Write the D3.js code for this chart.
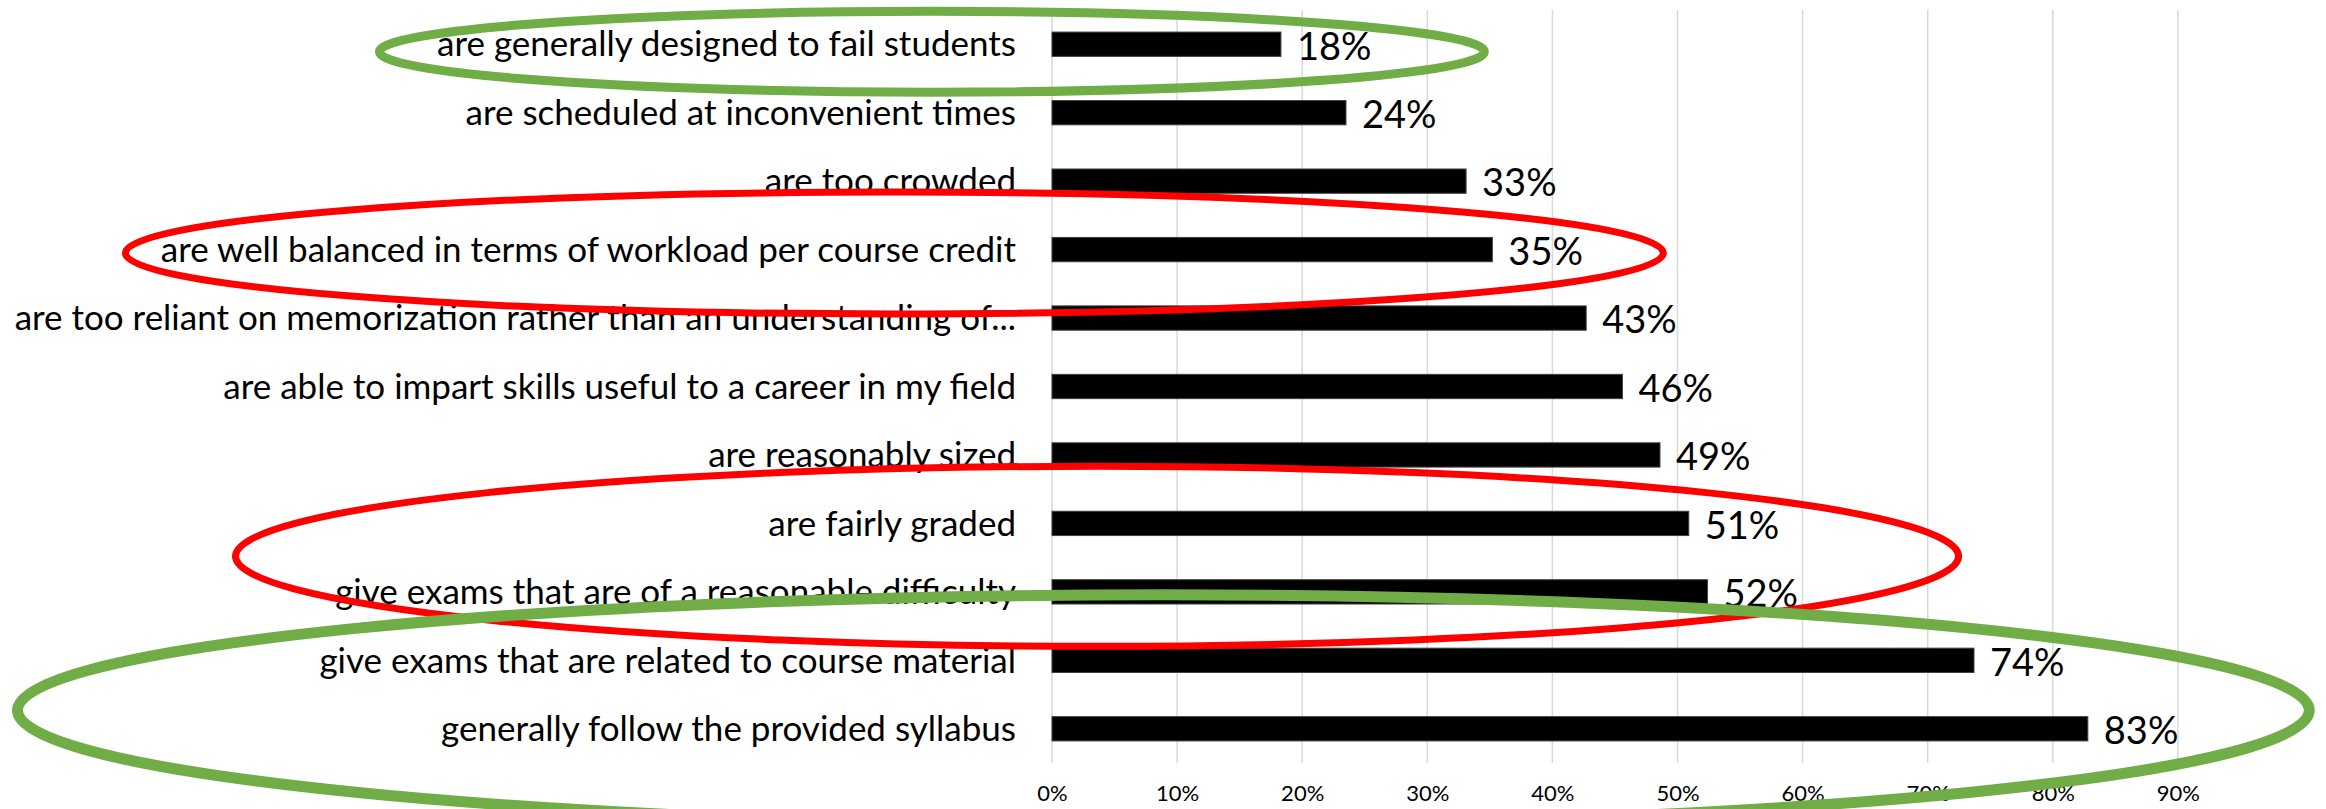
<!DOCTYPE html>
<html>
<head>
<meta charset="utf-8">
<script src="https://cdn.jsdelivr.net/npm/d3@7"></script>
<style>
  body { margin: 0; background: #fff; }
  svg { display: block; }
  text { font-family: Lato, "Noto Sans", sans-serif; fill: #000; }
</style>
</head>
<body>
<div id="chart"></div>
<script>
// data
var categories = [
  "are generally designed to fail students",
  "are scheduled at inconvenient times",
  "are too crowded",
  "are well balanced in terms of workload per course credit",
  "are too reliant on memorization rather than an understanding of...",
  "are able to impart skills useful to a career in my field",
  "are reasonably sized",
  "are fairly graded",
  "give exams that are of a reasonable difficulty",
  "give exams that are related to course material",
  "generally follow the provided syllabus"
];
var values = [0.183, 0.235, 0.331, 0.352, 0.427, 0.456, 0.486, 0.509, 0.524, 0.737, 0.828];
var valueLabels = ["18%", "24%", "33%", "35%", "43%", "46%", "49%", "51%", "52%", "74%", "83%"];
var tickValues = [0, 0.1, 0.2, 0.3, 0.4, 0.5, 0.6, 0.7, 0.8, 0.9];

// hand drawn highlight ellipses: centre / radii in value units (x) and row units (y)
var marksCx = [-0.096, -0.126, 0.036, 0.089];
var marksCy = [0.11, 3.05, 7.48, 9.73];
var marksRx = [0.4416, 0.6147, 0.6887, 0.916];
var marksRy = [0.59, 0.89, 1.315, 1.687];
var marksColor = ["#70AD47", "#FF0000", "#FF0000", "#70AD47"];
var marksWidth = [9, 7, 7, 11];

var svgWidth = 2326;
var svgHeight = 809;

var svg = d3.select("#chart").append("svg")
  .attr("width", svgWidth)
  .attr("height", svgHeight);

svg.append("rect").attr("width", svgWidth).attr("height", svgHeight).attr("fill", "#fff");

var plotLeft = 1052, plotRight = 2303, plotTop = 10, plotBottom = 763;

var x = d3.scaleLinear().domain([0, 1]).range([plotLeft, plotRight]);
var y = d3.scaleBand().domain(categories).range([plotTop, plotBottom])
  .paddingInner(0.645).paddingOuter(0.3225);
var row = d3.scaleLinear().domain([-0.5, categories.length - 0.5]).range([plotTop, plotBottom]);

// gridlines
svg.append("g").selectAll("line")
  .data(tickValues)
  .enter().append("line")
  .attr("x1", d => x(d)).attr("x2", d => x(d))
  .attr("y1", plotTop).attr("y2", plotBottom)
  .attr("stroke", "#d9d9d9")
  .attr("stroke-width", 1.5);

// x axis labels
var xAxis = d3.axisBottom(x).tickValues(tickValues).tickFormat(d3.format(".0%")).tickSize(0).tickPadding(0);
var gx = svg.append("g")
  .attr("transform", `translate(0, ${plotBottom + 30})`)
  .call(xAxis);
gx.select(".domain").remove();
gx.selectAll("text")
  .style("font-family", "Lato, sans-serif")
  .style("font-size", "22px")
  .attr("fill", "#000")
  .attr("dy", "0.35em")
  .attr("y", 0);

// bars
svg.append("g").selectAll("rect")
  .data(values)
  .enter().append("rect")
  .attr("x", x(0))
  .attr("y", (d, i) => y(categories[i]))
  .attr("width", d => x(d) - x(0))
  .attr("height", y.bandwidth())
  .attr("fill", "#000")
  .attr("stroke", "#404040")
  .attr("stroke-width", 1);

// category labels
svg.append("g").selectAll("text")
  .data(categories)
  .enter().append("text")
  .attr("x", x(0) - 36)
  .attr("y", d => y(d) + y.bandwidth() / 2)
  .attr("dy", "0.35em")
  .attr("text-anchor", "end")
  .style("font-size", "35px")
  .text(d => d);

// value labels
svg.append("g").selectAll("text")
  .data(values)
  .enter().append("text")
  .attr("x", d => x(d) + 16)
  .attr("y", (d, i) => y(categories[i]) + y.bandwidth() / 2 + 2)
  .attr("dy", "0.35em")
  .style("font-size", "38px")
  .text((d, i) => valueLabels[i]);

// highlight ellipses
var pxPerUnit = x(1) - x(0);
svg.append("g").selectAll("ellipse")
  .data(marksCx)
  .enter().append("ellipse")
  .attr("cx", d => x(d))
  .attr("cy", (d, i) => row(marksCy[i]))
  .attr("rx", (d, i) => marksRx[i] * pxPerUnit)
  .attr("ry", (d, i) => marksRy[i] * y.step())
  .attr("fill", "none")
  .attr("stroke", (d, i) => marksColor[i])
  .attr("stroke-width", (d, i) => marksWidth[i]);
</script>
</body>
</html>
